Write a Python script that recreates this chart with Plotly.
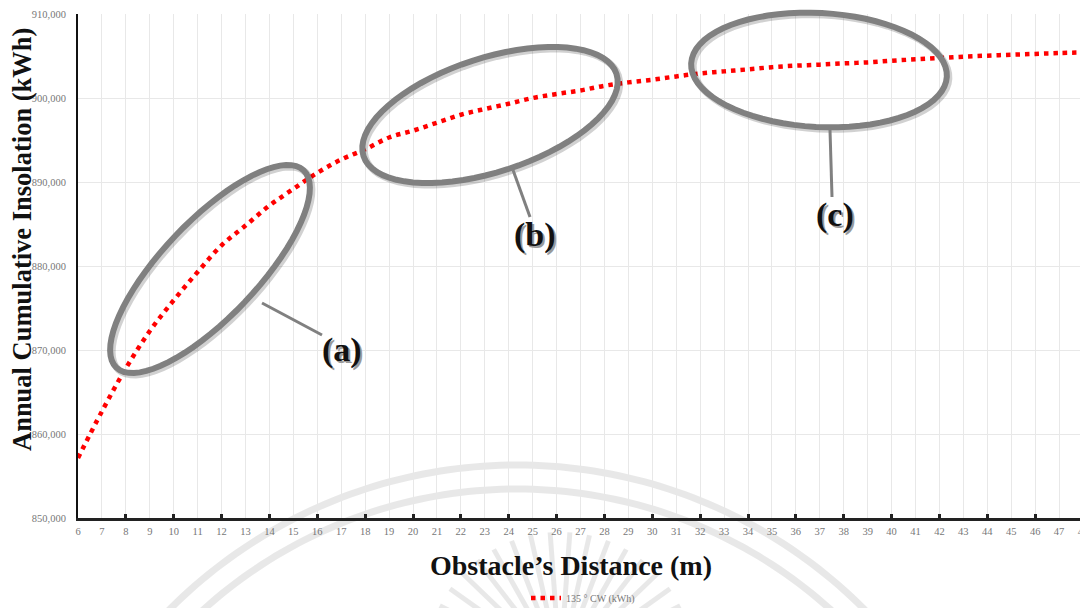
import math
import plotly.graph_objects as go

# ---- data ----
distance_m = list(range(6, 49))
insolation_kwh = [
    857140, 862700, 867820, 872260, 875920, 879290, 882460, 884810, 887190,
    889170, 891090, 892680, 893890, 895300, 896110, 897060, 898010, 898690,
    899320, 900000, 900480, 900900, 901460, 901860, 902180, 902570, 902930,
    903170, 903410, 903670, 903850, 903970, 904120, 904240, 904440, 904600,
    904760, 904920, 905040, 905150, 905250, 905360, 905430,
]
series_name = "135 ° CW (kWh)"
y_ticks = [850000, 860000, 870000, 880000, 890000, 900000, 910000]
callout_labels = ["(a)", "(b)", "(c)"]

# ---- layout geometry (page pixels; the page body has an 8px margin) ----
OFF = 8
W, H = 1088 - OFF, 608 - OFF
PL, PT, PR, PB = 78, 14, 1083, 518          # plot area in page pixels
L, T = PL - OFF, PT - OFF
R, B = W - (PR - OFF), H - (PB - OFF)
PW, PH = PR - PL, PB - PT
FONT = "Liberation Serif"


def px2paper(px, py):
    return (px - PL) / PW, (PB - py) / PH


def poly_path(pts, close=False):
    s = "M " + " L ".join(f"{x:.5f},{y:.5f}" for x, y in (px2paper(*p) for p in pts))
    return s + (" Z" if close else "")


def ellipse_path(cx, cy, a, b, deg, dx=0, dy=0, n=72):
    th = math.radians(deg)
    pts = []
    for i in range(n + 1):
        t = 2 * math.pi * i / n
        x = cx + a * math.cos(t) * math.cos(th) - b * math.sin(t) * math.sin(th) + dx
        y = cy + a * math.cos(t) * math.sin(th) + b * math.sin(t) * math.cos(th) + dy
        pts.append((x, y))
    return poly_path(pts, close=True)


fig = go.Figure()
fig.add_trace(go.Scatter(
    x=distance_m, y=insolation_kwh, mode="lines", name=series_name,
    line=dict(color="#ff0000", width=4.5, dash="4.5px,5px", shape="spline"),
))
# helper trace so the tick-mark axis (x2) is drawn
fig.add_trace(go.Scatter(x=[distance_m[0]], y=[y_ticks[0]], xaxis="x2",
                         mode="markers", marker=dict(opacity=0),
                         showlegend=False, hoverinfo="skip"))

shapes = []

# faint background watermark (two arcs and a fan of rays)
wm_col = "rgba(0,0,0,0.09)"
for r, cy in ((490, 955), (468, 957)):
    pts = []
    for i in range(0, 181):
        ang = math.radians(180 + i)
        pts.append((517 + r * math.cos(ang), cy + r * math.sin(ang)))
    shapes.append(dict(type="path", xref="paper", yref="paper", layer="below",
                       path=poly_path(pts), line=dict(color=wm_col, width=7)))
for k in range(16):
    ang = math.radians(207 + k * 8.4)
    r0, r1 = 55, 135
    pts = [(560 + r0 * math.cos(ang), 667 + r0 * math.sin(ang)),
           (560 + r1 * math.cos(ang), 667 + r1 * math.sin(ang))]
    shapes.append(dict(type="path", xref="paper", yref="paper", layer="below",
                       path=poly_path(pts), line=dict(color=wm_col, width=5)))

ellipses = [  # cx, cy, a, b, angle (page pixels)
    (210, 269, 136, 48, -46.5),
    (490, 115, 133, 57, -18),
    (819, 70, 128, 57, 3),
]
pointers = [
    ((262, 303), (322, 335)),
    ((513, 170), (530, 217)),
    ((830, 130), (832, 197)),
]
label_pos = [(342, 350), (535, 235), (835, 215)]

for cx, cy, a, b, d in ellipses:
    shapes.append(dict(type="path", xref="paper", yref="paper",
                       path=ellipse_path(cx, cy, a, b, d, 2, 2),
                       line=dict(color="rgba(0,0,0,0.18)", width=7)))
    shapes.append(dict(type="path", xref="paper", yref="paper",
                       path=ellipse_path(cx, cy, a, b, d),
                       line=dict(color="#808080", width=6)))
for (x0, y0), (x1, y1) in pointers:
    p0, p1 = px2paper(x0, y0), px2paper(x1, y1)
    shapes.append(dict(type="line", xref="paper", yref="paper",
                       x0=p0[0], y0=p0[1], x1=p1[0], y1=p1[1],
                       line=dict(color="#808080", width=3)))

annotations = []
for text, (lx, ly) in zip(callout_labels, label_pos):
    for off, col in (((2, 2), "#9a9a9a"), ((0, 0), "#111111")):
        px, py = px2paper(lx + off[0], ly + off[1])
        annotations.append(dict(text=f"<b>{text}</b>", x=px, y=py,
                                xref="paper", yref="paper", showarrow=False,
                                xanchor="center", yanchor="middle",
                                font=dict(family=FONT, size=34, color=col)))

tx, ty = px2paper(22, 240)
annotations.append(dict(text="<b>Annual Cumulative Insolation (kWh)</b>",
                        x=tx, y=ty, xref="paper", yref="paper", showarrow=False,
                        textangle=-90, xanchor="center", yanchor="middle",
                        font=dict(family=FONT, size=26.5, color="#111111")))
tx, ty = px2paper(571, 565)
annotations.append(dict(text="<b>Obstacle’s Distance (m)</b>",
                        x=tx, y=ty, xref="paper", yref="paper", showarrow=False,
                        xanchor="center", yanchor="middle",
                        font=dict(family=FONT, size=28, color="#111111")))

lx, ly = px2paper(583, 598)
fig.update_layout(
    width=W, height=H,
    margin=dict(l=L, r=R, t=T, b=B, autoexpand=False),
    paper_bgcolor="white", plot_bgcolor="rgba(0,0,0,0)",
    font=dict(family=FONT, color="#777777"),
    showlegend=True,
    legend=dict(orientation="h", x=lx, y=ly, xanchor="center", yanchor="middle",
                font=dict(family=FONT, size=10, color="#777777"),
                bgcolor="rgba(0,0,0,0)", itemwidth=30),
    xaxis=dict(range=[6, 48], dtick=1, tick0=6, showgrid=True,
               gridcolor="#e8e8e8", gridwidth=1, zeroline=False,
               showline=True, linecolor="#222222", linewidth=3,
               ticks="", ticklabelstandoff=1, ticklabeloverflow="allow",
               tickfont=dict(family=FONT, size=10.5, color="#777777")),
    xaxis2=dict(range=[6, 48], dtick=2, tick0=6, overlaying="x",
                side="bottom", showgrid=False, zeroline=False,
                showticklabels=False, ticks="inside", ticklen=4,
                tickwidth=3, tickcolor="#222222", showline=False),
    yaxis=dict(range=[850000, 910000], tickvals=y_ticks, tickformat=",",
               showgrid=True, gridcolor="#e8e8e8", gridwidth=1,
               zeroline=False, showline=True, linecolor="#111111",
               linewidth=2, ticks="", ticklabelstandoff=8,
               tickfont=dict(family=FONT, size=10.5, color="#777777")),
    shapes=shapes,
    annotations=annotations,
)

fig.write_html("out.html")
